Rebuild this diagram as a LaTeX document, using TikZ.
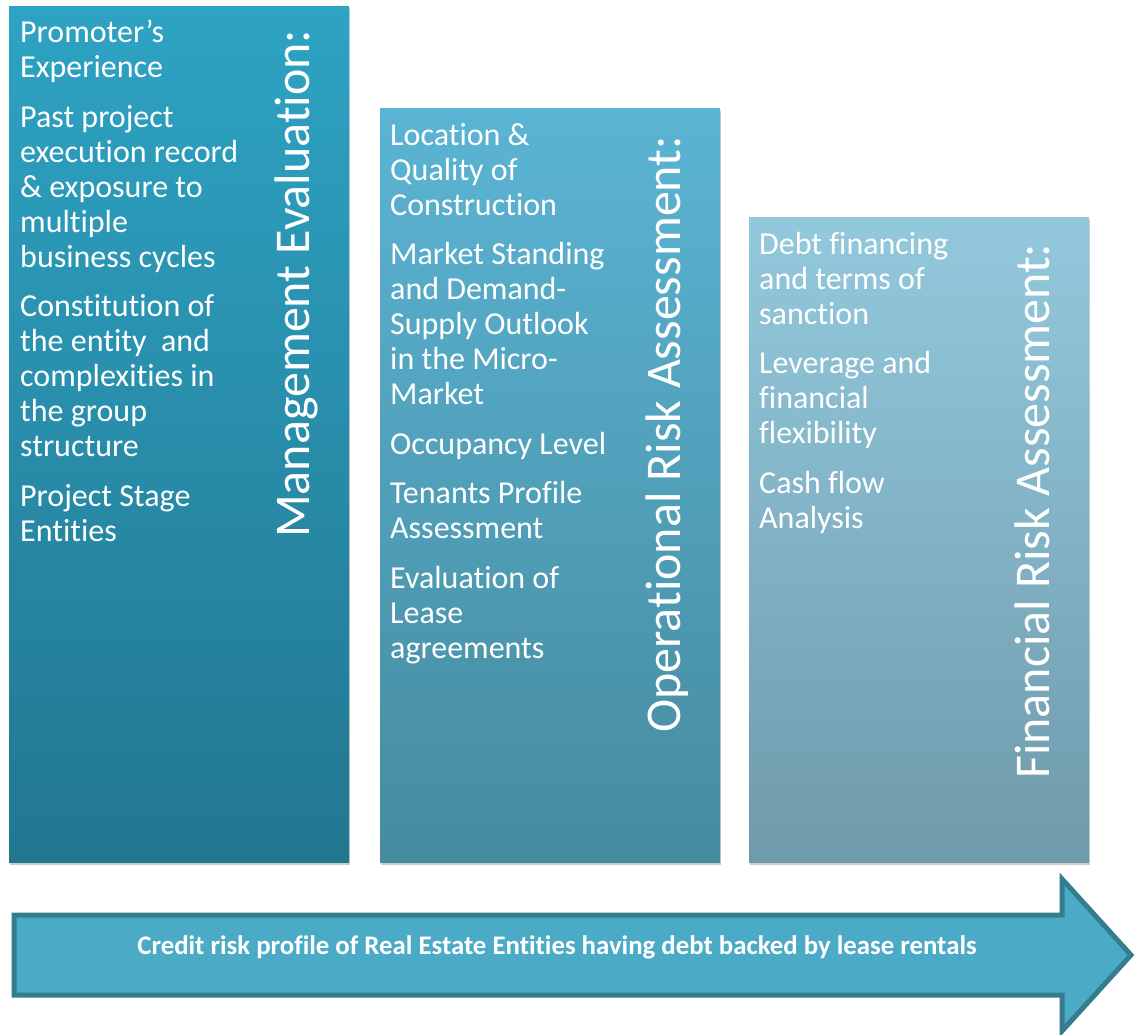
\documentclass[tikz,border=0pt]{standalone}
\usepackage{fontspec}
\setmainfont{Carlito}[Ligatures=NoCommon]
\usetikzlibrary{shadows}

\definecolor{mgmttop}{HTML}{2EA3C4}
\definecolor{mgmtbot}{HTML}{227790}
\definecolor{opertop}{HTML}{5BB4D4}
\definecolor{operbot}{HTML}{468B9F}
\definecolor{fintop}{HTML}{93C9DD}
\definecolor{finbot}{HTML}{6F9AAB}
\definecolor{arrowfill}{HTML}{4BABC6}
\definecolor{arrowedge}{HTML}{347D8E}

\tikzset{
  pillar/.style={anchor=north west, inner sep=0pt, minimum width=340pt,
    drop shadow={shadow xshift=1pt, shadow yshift=-3pt, fill=black!40, opacity=.5}},
  items/.style={anchor=north west, inner sep=0pt, align=left,
    text=white, font=\fontsize{32}{35}\selectfont},
  heading/.style={rotate=90, anchor=base west, inner sep=0pt, text=white,
    font=\fontsize{50}{54}\selectfont}
}

\begin{document}
\begin{tikzpicture}[x=1pt, y=-1pt]
  \useasboundingbox (0,0) rectangle (1135,1035);
  % the three columns
  \node[pillar, minimum height=856pt, top color=mgmttop, bottom color=mgmtbot] (mgmt) at (9,6) {};
  \node[pillar, minimum height=754pt, top color=opertop, bottom color=operbot] (oper) at (380,108) {};
  \node[pillar, minimum height=645pt, top color=fintop, bottom color=finbot] (fin) at (749,217) {};

  \node[items] (mgmtitems) at (20,20) {Promoter’s\\ Experience\\[14.5pt]
    Past project\\ execution record\\ \& exposure to\\ multiple\\ business cycles\\[14.5pt]
    Constitution of\\ the entity~ and\\ complexities in\\ the group\\ structure\\[14.5pt]
    Project Stage\\ Entities};
  \node[items] (operitems) at (390,123) {Location \&\\ Quality of\\ Construction\\[14.5pt]
    Market Standing\\ and Demand-\\ Supply Outlook\\ in the Micro-\\ Market\\[14.5pt]
    Occupancy Level\\[14.5pt]
    Tenants Profile\\ Assessment\\[14.5pt]
    Evaluation of\\ Lease\\ agreements};
  \node[items] (finitems) at (759,232) {Debt financing\\ and terms of\\ sanction\\[14.5pt]
    Leverage and\\ financial\\ flexibility\\[14.5pt]
    Cash flow\\ Analysis};

  \node[heading] (mgmttitle) at (309,538) {Management Evaluation:};
  \node[heading] (opertitle) at (680,733) {Operational Risk Assessment:};
  \node[heading] (fintitle) at (1049,779) {Financial Risk Assessment:};

  % arrow along the bottom
  \draw[line width=5pt, draw=arrowedge, fill=arrowfill, line join=miter]
    (14,915) -- (1062,915) -- (1062,879) -- (1131,955) -- (1062,1031)
    -- (1062,995) -- (14,995) -- cycle;
  \node[anchor=base, inner sep=0pt, text=white, font=\bfseries\fontsize{26.8}{30}\selectfont] (profile) at (557,954)
    {Credit risk profile of Real Estate Entities having debt backed by lease rentals};
\end{tikzpicture}
\end{document}
